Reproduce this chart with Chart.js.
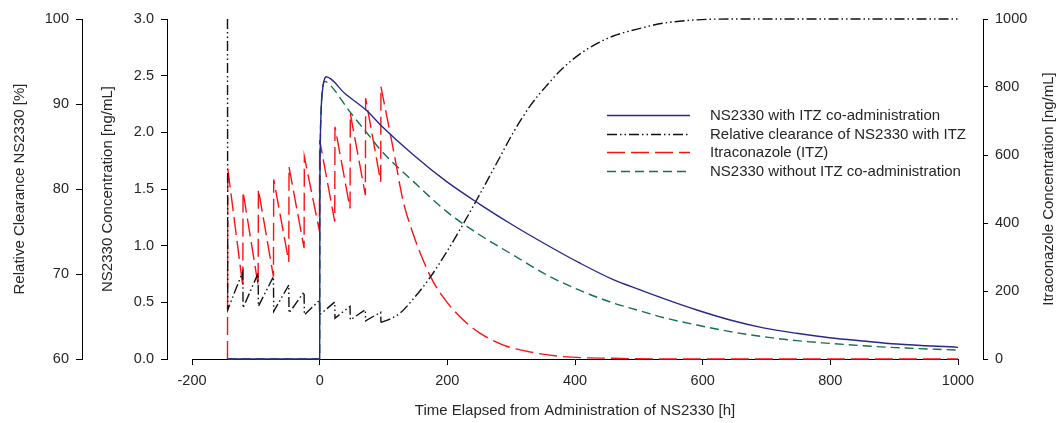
<!DOCTYPE html>
<html>
<head>
<meta charset="utf-8">
<script src="https://cdn.jsdelivr.net/npm/chart.js@4"></script>
<style>
  body { margin: 0; background: #fff; }
</style>
</head>
<body>
<canvas id="pkChart" width="1059" height="423"></canvas>
<script>
// values, time in hours after NS2330 dose

// NS2330 with ITZ co-administration [ng/mL]
const withTime = [-144, 0, 0.3, 1, 2, 3, 5, 7, 10, 40, 74, 94.5, 147, 199, 251, 303, 356, 408, 460, 502, 538, 591, 643, 695, 747, 799, 851, 904, 1000];
const withConc = [0, 0, 1.3, 1.9, 2.15, 2.28, 2.4, 2.46, 2.49, 2.34, 2.19, 2.07, 1.8, 1.565, 1.365, 1.18, 1.006, 0.845, 0.7, 0.61, 0.535, 0.432, 0.344, 0.275, 0.227, 0.188, 0.159, 0.132, 0.103];

// NS2330 without ITZ [ng/mL]
const withoutTime = [-144, 0, 0.3, 1, 2, 3, 5, 8, 16, 47.5, 79, 94.5, 147, 199, 251, 303, 356, 408, 460, 502, 538, 591, 643, 695, 747, 799, 851, 904, 1000];
const withoutConc = [0, 0, 1.3, 1.9, 2.15, 2.28, 2.4, 2.45, 2.42, 2.18, 1.96, 1.85, 1.565, 1.3, 1.094, 0.918, 0.741, 0.605, 0.494, 0.425, 0.366, 0.3, 0.242, 0.197, 0.162, 0.138, 0.117, 0.1, 0.079];

// relative clearance of NS2330 [%]
const rcTime = [-144.4, -144, -120.4, -120, -96.4, -96, -72.4, -72, -48.4, -48, -24.4, -24, -0.4, 0, 23.6, 24, 47.6, 48, 71.6, 72, 95.6, 96, 110, 126, 147, 173, 199, 225, 251, 277, 303, 329, 356, 382, 408, 434, 460, 502, 538, 591, 650, 1000];
const rcValue = [100, 65.8, 70.3, 66.0, 70.1, 66.2, 69.7, 65.6, 68.7, 65.4, 67.9, 65.2, 66.9, 65.2, 66.7, 64.8, 66.2, 64.6, 65.8, 64.5, 65.5, 64.3, 64.7, 65.4, 67.1, 69.6, 72.6, 75.9, 79.4, 83.0, 86.6, 89.7, 92.2, 94.3, 95.9, 97.1, 98.0, 98.9, 99.5, 99.9, 100, 100];

// itraconazole [ng/mL], daily doses up to t = 96 h
const itzTime = [-144.4, -144, -120.4, -120, -96.4, -96, -72.4, -72, -48.4, -48, -24.4, -24, -0.4, 0, 23.6, 24, 47.6, 48, 71.6, 72, 95.6, 96, 115, 131, 147, 162, 178, 199, 225, 251, 288, 329, 382, 460, 560, 1000];
const itzConc = [0, 561, 213, 492, 217, 499, 242, 528, 286, 565, 326, 595, 377, 644, 404, 683, 443, 722, 482, 767, 521, 801, 620, 463, 365, 291, 227, 168, 115, 76, 41, 21, 7, 2, 0, 0];
const lastDose = 96;

const seriesLabels = [
  'NS2330 with ITZ co-administration',
  'Relative clearance of NS2330 with ITZ',
  'Itraconazole (ITZ)',
  'NS2330 without ITZ co-administration'
];

const textColor = '#262626';
const fontFamily = '"Liberation Sans", Arial, Helvetica, sans-serif';

function toPoints(xs, ys) {
  return xs.map((x, i) => ({ x: x, y: ys[i] }));
}

// dosing part is drawn with straight segments, the washout as a smooth curve
function dosingPart(xs, ys) {
  return toPoints(xs, ys).filter(p => p.x <= lastDose);
}
function washoutPart(xs, ys) {
  return toPoints(xs, ys).filter(p => p.x >= lastDose);
}

Chart.defaults.font.family = fontFamily;
Chart.defaults.color = textColor;

// legend sits inside the plot, drawn by hand
const insideLegend = {
  id: 'insideLegend',
  afterDatasetsDraw(chart) {
    const ctx = chart.ctx;
    const x0 = 607, x1 = 690, tx = 710, y0 = 115, step = 18.6;
    const entries = chart.data.datasets.filter(ds => !ds.washout);
    ctx.save();
    seriesLabels.forEach((label, i) => {
      const ds = entries.find(d => d.label === label);
      const y = Math.round(y0 + i * step) + 0.5;
      ctx.beginPath();
      ctx.setLineDash(ds.borderDash || []);
      ctx.strokeStyle = ds.borderColor;
      ctx.lineWidth = ds.borderWidth;
      ctx.moveTo(x0, y);
      ctx.lineTo(x1, y);
      ctx.stroke();
      ctx.setLineDash([]);
      ctx.fillStyle = textColor;
      ctx.font = '15px ' + fontFamily;
      ctx.textBaseline = 'middle';
      ctx.textAlign = 'left';
      ctx.fillText(label, tx, y);
    });
    ctx.restore();
  }
};

// right axis title reads bottom-to-top like the left ones
const rightTitle = {
  id: 'rightTitle',
  afterDraw(chart) {
    const s = chart.scales.yItz;
    const ctx = chart.ctx;
    ctx.save();
    ctx.translate(s.right - 10, (s.top + s.bottom) / 2);
    ctx.rotate(-Math.PI / 2);
    ctx.font = '15px ' + fontFamily;
    ctx.fillStyle = textColor;
    ctx.textAlign = 'center';
    ctx.textBaseline = 'middle';
    ctx.fillText('Itraconazole Concentration [ng/mL]', 0, 0);
    ctx.restore();
  }
};

const axisGrid = { display: true, drawOnChartArea: false, drawTicks: true, tickLength: 6, color: '#000' };
const axisBorder = { display: true, color: '#000', width: 1 };
const tickFont = { size: 14.5 };
const titleFont = { size: 15 };
const plainNumber = v => String(v);

const spacer = (pos, w) => ({
  type: 'linear', position: pos, display: true, min: 0, max: 1,
  ticks: { display: false }, grid: { display: false }, border: { display: false },
  afterFit: s => { s.width = w; }
});

const rcStyle = { yAxisID: 'yClear', borderColor: '#111111', borderWidth: 1.4, borderDash: [10, 3, 1.5, 3, 1.5, 3] };
const itzStyle = { yAxisID: 'yItz', borderColor: '#ff1010', borderWidth: 1.4, borderDash: [18, 6] };

const data = {
  datasets: [
    {
      label: seriesLabels[0],
      data: toPoints(withTime, withConc),
      yAxisID: 'yConc',
      borderColor: '#27278c',
      borderWidth: 1.4,
      borderDash: [],
      cubicInterpolationMode: 'monotone'
    },
    Object.assign({ label: seriesLabels[1], data: dosingPart(rcTime, rcValue), tension: 0 }, rcStyle),
    Object.assign({ label: seriesLabels[1], data: washoutPart(rcTime, rcValue), washout: true, cubicInterpolationMode: 'monotone' }, rcStyle),
    Object.assign({ label: seriesLabels[2], data: dosingPart(itzTime, itzConc), tension: 0 }, itzStyle),
    Object.assign({ label: seriesLabels[2], data: washoutPart(itzTime, itzConc), washout: true, cubicInterpolationMode: 'monotone' }, itzStyle),
    {
      label: seriesLabels[3],
      data: toPoints(withoutTime, withoutConc),
      yAxisID: 'yConc',
      borderColor: '#13704a',
      borderWidth: 1.4,
      borderDash: [9, 5],
      cubicInterpolationMode: 'monotone'
    }
  ]
};

const config = {
  type: 'line',
  data: data,
  options: {
    responsive: false,
    animation: false,
    clip: false,
    elements: { point: { radius: 0 }, line: { fill: false } },
    layout: { padding: { top: 19, right: 0, bottom: 0, left: 0 } },
    plugins: { legend: { display: false }, tooltip: { enabled: false } },
    scales: {
      x: {
        type: 'linear', min: -200, max: 1000,
        ticks: { stepSize: 200, font: tickFont, padding: 7, maxRotation: 0, callback: plainNumber },
        grid: axisGrid, border: axisBorder,
        title: { display: true, text: 'Time Elapsed from Administration of NS2330 [h]', font: titleFont, padding: { top: 0, bottom: 3 } },
        afterFit: s => { s.height = 64; }
      },
      yClear: {
        type: 'linear', position: 'left', weight: 3, min: 60, max: 100,
        ticks: { stepSize: 10, font: tickFont, padding: 7, callback: plainNumber },
        grid: axisGrid, border: axisBorder,
        title: { display: true, text: 'Relative Clearance NS2330 [%]', font: titleFont, padding: { top: 11, bottom: 0 } },
        afterFit: s => { s.width = 82; }
      },
      yConc: {
        type: 'linear', position: 'left', weight: 2, min: 0, max: 3,
        ticks: { stepSize: 0.5, font: tickFont, padding: 7, callback: v => v.toFixed(1) },
        grid: axisGrid, border: axisBorder,
        title: { display: true, text: 'NS2330 Concentration [ng/mL]', font: titleFont, padding: { top: 17, bottom: 0 } },
        afterFit: s => { s.width = 85; }
      },
      gapLeft: Object.assign(spacer('left', 25), { weight: 1 }),
      gapRight: Object.assign(spacer('right', 25), { weight: 0 }),
      yItz: {
        type: 'linear', position: 'right', weight: 1, min: 0, max: 1000,
        ticks: { stepSize: 200, font: tickFont, padding: 7, callback: plainNumber },
        grid: Object.assign({}, axisGrid, { tickLength: 5 }), border: axisBorder,
        afterFit: s => { s.width = 76; }
      }
    }
  },
  plugins: [insideLegend, rightTitle]
};

const pkChart = new Chart(document.getElementById('pkChart'), config);
</script>
</body>
</html>
